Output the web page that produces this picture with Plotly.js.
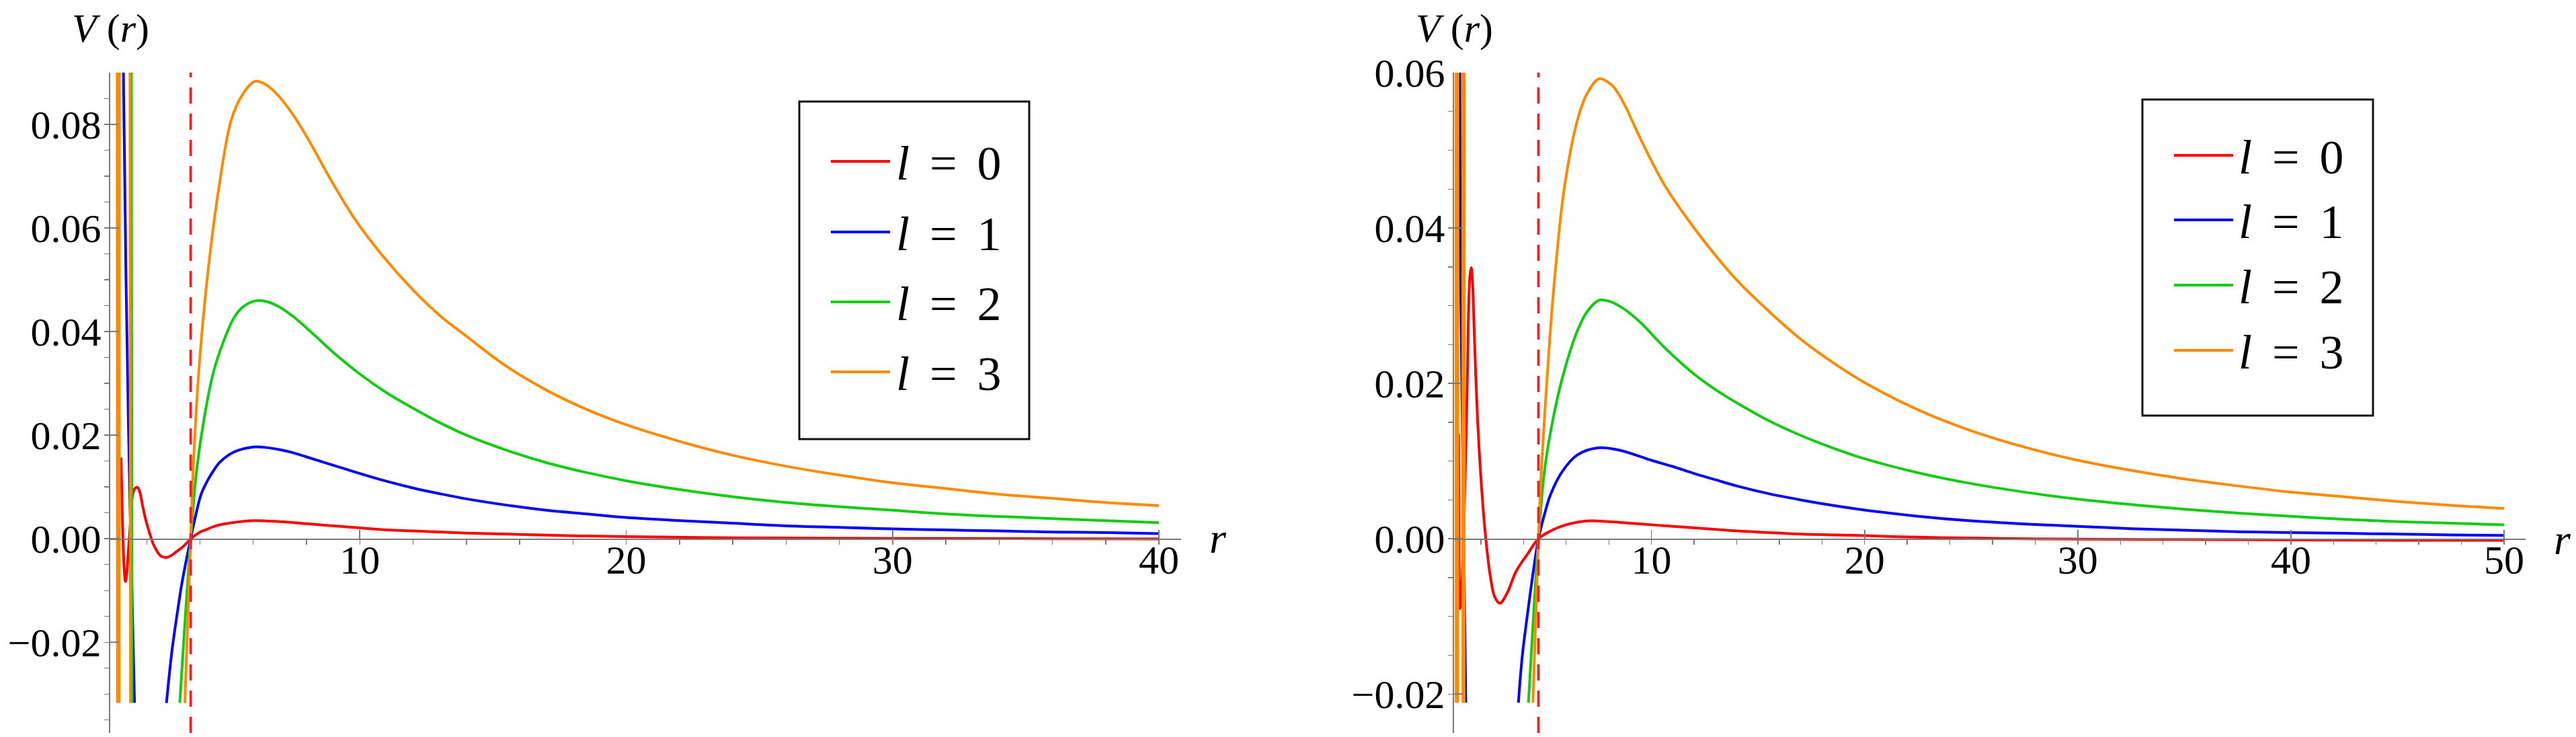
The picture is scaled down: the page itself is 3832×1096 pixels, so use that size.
<!DOCTYPE html>
<html>
<head>
<meta charset="utf-8">
<script src="https://cdn.plot.ly/plotly-3.0.1.min.js"></script>
<style>
  html, body { margin: 0; padding: 0; background: #fff; }
  #chart { width: 3832px; height: 1096px; }
</style>
</head>
<body>
<div id="chart"></div>
<script>
// angular momentum of each curve and its colour
const lValues = [0, 1, 2, 3];
const lineColors = ["#ff0000", "#0000ff", "#11cc11", "#ff8a00"];

// horizon radius per panel (red dashed line)
const horizon = [3.65, 4.70];

// axis ranges
const leftRange = { r: [0.63, 40.83], v: [-0.0375, 0.09] };
const rightRange = { r: [0.74, 51.01], v: [-0.025, 0.06] };

// ---- left panel, V(r) (null = curve leaves the frame) ----
const leftR0 = [1.034, 1.09, 1.15, 1.20, 1.25, 1.30, 1.35, 1.41, 1.47, 1.57, 1.66, 1.75, 1.85, 1.97, 2.10, 2.27, 2.52, 2.73, 2.93, 3.11, 3.30, 3.45, 3.65, 4.0, 4.2, 4.6, 5.2, 6.0, 7.0, 8.0, 9.0, 10, 11, 12, 14, 17, 20, 24, 28, 32, 36, 40];
const leftV0 = [0.0157, 0.0030, -0.0055, -0.0083, -0.0066, -0.0030, 0.0004, 0.0048, 0.0085, 0.0098, 0.0099, 0.0088, 0.0062, 0.0035, 0.0012, -0.0013, -0.0033, -0.0036, -0.0032, -0.0025, -0.0018, -0.0011, 0.0, 0.0013, 0.0017, 0.0025, 0.0031, 0.0035, 0.0033, 0.0029, 0.0025, 0.0021, 0.0017, 0.0015, 0.0011, 0.0007, 0.0004, 0.0002, 0.0001, 0.00004, 0.0, -0.00004];

const leftR1 = [1.10, 1.22, 1.36, 1.54, null, 2.74, 2.95, 3.16, 3.30, 3.44, 3.65, 3.85, 4.05, 4.30, 4.50, 4.75, 5.26, 6.0, 6.5, 7.0, 7.5, 8.0, 9.0, 10, 11, 12, 13, 14, 15.5, 17, 18.5, 20, 22, 24, 26, 28, 30, 32, 34, 36, 38, 40];
const leftV1 = [0.1, 0.0507, 0.0095, -0.0317, null, -0.0317, -0.0215, -0.0139, -0.0092, -0.0053, 0.0, 0.0048, 0.0087, 0.0114, 0.0131, 0.0148, 0.0167, 0.0177, 0.0176, 0.0172, 0.0166, 0.0158, 0.0142, 0.0126, 0.0111, 0.0098, 0.0087, 0.0077, 0.0065, 0.0055, 0.0048, 0.0041, 0.0035, 0.0030, 0.0025, 0.0022, 0.0019, 0.0017, 0.0015, 0.0013, 0.0012, 0.0010];

const leftR2 = [1.42, 1.45, null, 3.24, 3.45, 3.65, 3.87, 4.16, 4.50, 4.92, 5.29, 5.6, 6.05, 6.5, 7.0, 7.5, 8.0, 9.0, 10, 11, 12, 13, 14, 15.5, 17, 18.5, 20, 22, 24, 26, 28, 30, 32, 34, 36, 38, 40];
const leftV2 = [0.1, -0.0317, null, -0.0317, -0.0148, 0.0, 0.0131, 0.0234, 0.0321, 0.0386, 0.0428, 0.0447, 0.0459, 0.0458, 0.0447, 0.0429, 0.0407, 0.0360, 0.0318, 0.0282, 0.0252, 0.0224, 0.0200, 0.0171, 0.0147, 0.0128, 0.0112, 0.0095, 0.0081, 0.0070, 0.0062, 0.0055, 0.0048, 0.0043, 0.0039, 0.0035, 0.0031];

const leftR3 = [0.89, 0.90, null, 0.965, 0.975, null, 1.37, 1.39, null, 3.43, 3.54, 3.65, 3.74, 3.95, 4.25, 4.70, 5.18, 5.6, 6.06, 6.5, 7.0, 7.5, 8.1, 8.9, 9.8, 10.81, 12, 13, 14, 15.5, 17, 18.5, 20, 22, 24, 26, 28, 30, 32, 34, 36, 38, 40];
const leftV3 = [0.1, -0.0317, null, -0.0317, 0.1, null, 0.1, -0.0317, null, -0.0317, -0.0158, 0.0, 0.0131, 0.0320, 0.0493, 0.0675, 0.0810, 0.0858, 0.0883, 0.0876, 0.0852, 0.0818, 0.0768, 0.0694, 0.0618, 0.0549, 0.0480, 0.0431, 0.0391, 0.0333, 0.0287, 0.0250, 0.0220, 0.0188, 0.0161, 0.0140, 0.0123, 0.0108, 0.0097, 0.0086, 0.0078, 0.0070, 0.0064];

// ---- right panel ----
const rightR0 = [0.962, 0.975, 0.99, 1.02, 1.10, 1.22, 1.34, 1.42, 1.49, 1.55, 1.62, 1.70, 1.86, 2.07, 2.23, 2.44, 2.65, 2.89, 3.23, 3.65, 4.18, 4.70, 5.2, 6.0, 7.09, 8.0, 9.0, 10, 11, 12, 13, 14, 15.5, 17, 18.5, 20, 22.5, 25, 27.5, 30, 35, 40, 45, 50];
const rightV0 = [0.0135, 0.0030, -0.0075, -0.0090, -0.0060, 0.0040, 0.0173, 0.0293, 0.0340, 0.0349, 0.0322, 0.0255, 0.0145, 0.0051, 0.0, -0.0048, -0.0075, -0.0083, -0.0070, -0.0042, -0.0020, 0.0, 0.0009, 0.0018, 0.0023, 0.0022, 0.0020, 0.0018, 0.0016, 0.0014, 0.0012, 0.0010, 0.0008, 0.0006, 0.0005, 0.0004, 0.0002, 0.0001, 0.0, -0.00005, -0.0001, -0.00015, -0.0002, -0.0002];

const rightR1 = [1.00, 1.03, 1.15, 1.29, null, 3.76, 3.93, 4.21, 4.49, 4.70, 5.0, 5.27, 5.83, 6.53, 7.5, 8.5, 10, 11, 12, 13, 14, 15.5, 17, 18.5, 20, 22.5, 25, 27.5, 30, 32.5, 35, 37.5, 40, 42.5, 45, 47.5, 50];
const rightV1 = [0.07, 0.040, 0.010, -0.0211, null, -0.0211, -0.0154, -0.0092, -0.0036, 0.0, 0.0033, 0.0057, 0.0087, 0.0108, 0.0117, 0.0114, 0.0101, 0.0093, 0.0084, 0.0076, 0.0068, 0.0058, 0.0050, 0.0043, 0.0037, 0.0029, 0.0023, 0.0019, 0.0016, 0.0013, 0.0011, 0.0009, 0.0008, 0.0007, 0.0006, 0.0005, 0.00043];

const rightR2 = [4.23, 4.47, 4.70, 4.98, 5.34, 5.83, 6.53, 7.0, 7.54, 8.1, 8.7, 9.5, 10.62, 12, 13, 14, 15.5, 17, 18.5, 20, 22.5, 25, 27.5, 30, 32.5, 35, 37.5, 40, 42.5, 45, 47.5, 50];
const rightV2 = [-0.0211, -0.0098, 0.0, 0.0087, 0.0148, 0.0208, 0.0268, 0.0293, 0.0307, 0.0305, 0.0296, 0.0278, 0.0246, 0.0212, 0.0192, 0.0175, 0.0152, 0.0133, 0.0117, 0.0103, 0.0085, 0.0071, 0.0060, 0.0051, 0.0044, 0.0038, 0.0033, 0.0029, 0.0025, 0.0022, 0.0020, 0.0018];

const rightR3 = [0.83, 0.84, null, 0.915, 0.925, null, 1.145, 1.155, null, 1.215, 1.225, null, 4.44, 4.57, 4.70, 4.82, 5.10, 5.41, 5.90, 6.53, 7.0, 7.55, 8.1, 8.4, 8.79, 9.5, 10.62, 12, 13, 14, 15.5, 17, 18.5, 20, 22.5, 25, 27.5, 30, 32.5, 35, 37.5, 40, 42.5, 45, 47.5, 50];
const rightV3 = [0.07, -0.0211, null, -0.0211, 0.07, null, 0.07, -0.0211, null, -0.0211, 0.07, null, -0.0211, -0.0105, 0.0, 0.0080, 0.0205, 0.0320, 0.0449, 0.0539, 0.0574, 0.0592, 0.0585, 0.0575, 0.0556, 0.0514, 0.0455, 0.0400, 0.0365, 0.0333, 0.0293, 0.0257, 0.0227, 0.0201, 0.0166, 0.0139, 0.0118, 0.0101, 0.0088, 0.0077, 0.0068, 0.0060, 0.0054, 0.0048, 0.0043, 0.0039];

const leftR = [leftR0, leftR1, leftR2, leftR3];
const leftV = [leftV0, leftV1, leftV2, leftV3];
const rightR = [rightR0, rightR1, rightR2, rightR3];
const rightV = [rightV0, rightV1, rightV2, rightV3];

// page geometry (pixels of the 3832x1096 picture)
const W = 3832, H = 1096;
const px = (x) => x / W;
const py = (y) => 1 - y / H;
const serif = "Liberation Serif";
const axisGray = "#7a7a7a";

// curves, red first so orange ends on top
const traces = [];
[["x", "y", leftR, leftV], ["x2", "y2", rightR, rightV]].forEach(([xa, ya, rs, vs]) => {
  lValues.forEach((l, i) => {
    traces.push({
      x: rs[i], y: vs[i], xaxis: xa, yaxis: ya,
      type: "scatter", mode: "lines", connectgaps: false, hoverinfo: "skip",
      line: { color: lineColors[i], width: 4, shape: "spline", smoothing: 1 },
    });
  });
});

function xAxis(domain, range, pos) {
  return {
    domain: domain, range: range, anchor: "free", position: pos,
    showline: true, linecolor: axisGray, linewidth: 1.6,
    ticks: "inside", ticklen: 13, tickwidth: 1.6, tickcolor: axisGray,
    tick0: 0, dtick: 10, ticklabelstandoff: -22,
    minor: { dtick: 2, ticklen: 7, tickwidth: 1.4, tickcolor: axisGray },
    showgrid: false, zeroline: false, fixedrange: true,
    tickfont: { family: serif, size: 60, color: "#000" },
  };
}

function yAxis(range, anchor) {
  return {
    domain: [py(1090), py(108)], range: range, anchor: anchor,
    showline: true, linecolor: axisGray, linewidth: 1.6,
    ticks: "inside", ticklen: 13, tickwidth: 1.6, tickcolor: axisGray,
    tick0: 0, dtick: 0.02, tickformat: ".2f",
    minor: { dtick: 0.005, ticklen: 7, tickwidth: 1.4, tickcolor: axisGray },
    showgrid: false, zeroline: false, fixedrange: true,
    tickfont: { family: serif, size: 60, color: "#000" },
  };
}

const shapes = [];
const annotations = [];

// dashed horizon lines
[[leftRange, "x", "y"], [rightRange, "x2", "y2"]].forEach(([rg, xr, yr], k) => {
  shapes.push({
    type: "line", xref: xr, yref: yr, layer: "above",
    x0: horizon[k], x1: horizon[k], y0: rg.v[0], y1: rg.v[1],
    line: { color: "#ee2222", width: 3.8, dash: "24px,15px" },
  });
});

// axis titles
[{ x: 164, y: 42 }, { x: 2163, y: 42 }].forEach((p) => {
  annotations.push({
    xref: "paper", yref: "paper", x: px(p.x), y: py(p.y),
    xanchor: "center", yanchor: "middle", showarrow: false,
    text: "<i>V</i> (<i>r</i>)", font: { family: serif, size: 60, color: "#000" },
  });
});
[{ x: 1812, y: 800 }, { x: 3812, y: 802 }].forEach((p) => {
  annotations.push({
    xref: "paper", yref: "paper", x: px(p.x), y: py(p.y),
    xanchor: "center", yanchor: "middle", showarrow: false,
    text: "<i>r</i>", font: { family: serif, size: 64, color: "#000" },
  });
});

// legend boxes drawn by hand
const legendBoxes = [
  { x0: 1189, y0: 151, x1: 1531, y1: 653, lineX: [1236, 1324], textX: 1331, rows: [240, 345, 449, 553] },
  { x0: 3187, y0: 148, x1: 3530, y1: 618, lineX: [3234, 3322], textX: 3328, rows: [231, 327, 424, 521] },
];
legendBoxes.forEach((b) => {
  shapes.push({
    type: "rect", xref: "paper", yref: "paper", layer: "above",
    x0: px(b.x0), x1: px(b.x1), y0: py(b.y1), y1: py(b.y0),
    fillcolor: "#fff", line: { color: "#111", width: 3 },
  });
  lValues.forEach((l, i) => {
    shapes.push({
      type: "line", xref: "paper", yref: "paper", layer: "above",
      x0: px(b.lineX[0]), x1: px(b.lineX[1]), y0: py(b.rows[i]), y1: py(b.rows[i]),
      line: { color: lineColors[i], width: 4 },
    });
    annotations.push({
      xref: "paper", yref: "paper", x: px(b.textX), y: py(b.rows[i] + 3),
      xanchor: "left", yanchor: "middle", showarrow: false,
      text: "<i>l</i> \u2006=\u2006 " + l, font: { family: serif, size: 72, color: "#000" },
    });
  });
});

const layout = {
  width: W, height: H,
  margin: { l: 0, r: 0, t: 0, b: 0 },
  paper_bgcolor: "#fff", plot_bgcolor: "rgba(0,0,0,0)",
  showlegend: false, hovermode: false,
  font: { family: serif, size: 60, color: "#000" },
  xaxis: xAxis([px(164), px(1757)], leftRange.r, py(801)),
  yaxis: yAxis(leftRange.v, "x"),
  xaxis2: xAxis([px(2163), px(3757)], rightRange.r, py(801)),
  yaxis2: yAxis(rightRange.v, "x2"),
  shapes: shapes,
  annotations: annotations,
};

Plotly.newPlot("chart", traces, layout, { staticPlot: true, displayModeBar: false });
</script>
</body>
</html>
